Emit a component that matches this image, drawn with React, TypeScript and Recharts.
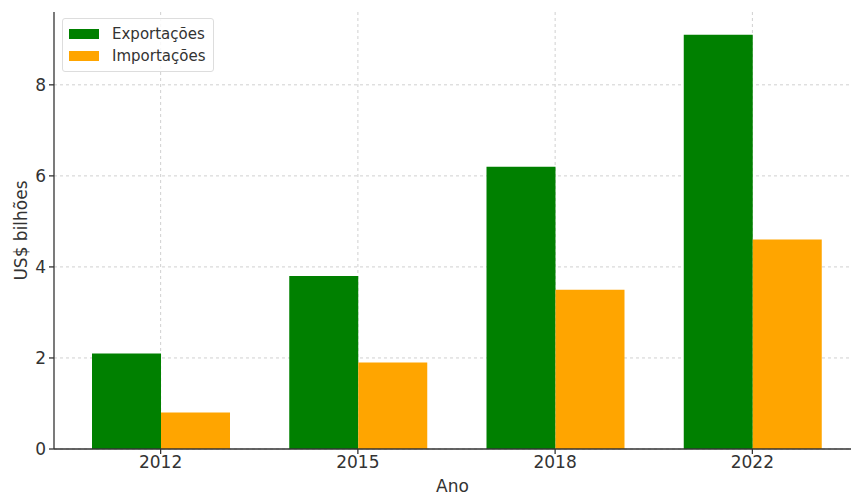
import * as React from "react";
import {
    Bar,
    BarChart,
    CartesianGrid,
    XAxis,
    YAxis,
} from "recharts";

const YEARS: string[] = ["2012", "2015", "2018", "2022"];
const EXPORTS: number[] = [2.1, 3.8, 6.2, 9.1];
const IMPORTS: number[] = [0.8, 1.9, 3.5, 4.6];
const Y_TICKS: number[] = [0, 2, 4, 6, 8];

const SERIES = [
    { key: "exportacoes", name: "Exportações", color: "#008000" },
    { key: "importacoes", name: "Importações", color: "#FFA500" },
];

const TEXT_COLOR = "#333";
const FONT = "'DejaVu Sans', sans-serif";

const data = YEARS.map((year, i) => ({
    ano: year,
    exportacoes: EXPORTS[i],
    importacoes: IMPORTS[i],
}));

// legend drawn as an overlay so it doesn't eat plot space
const LegendBox = (): JSX.Element => (
    <div style={{
        position: "absolute",
        left: 62,
        top: 18,
        border: "1px solid #ddd",
        borderRadius: 3,
        background: "rgba(255,255,255,0.85)",
        padding: "4px 8px 4px 6px",
        fontFamily: FONT,
        fontSize: 15,
        color: TEXT_COLOR,
    }}>
        {SERIES.map((s, i) => (
            <div key={`leg-${i}`} style={{ display: "flex", alignItems: "center", height: 22 }}>
                <span style={{ display: "inline-block", width: 30, height: 10, background: s.color, marginRight: 13 }} />
                <span>{s.name}</span>
            </div>
        ))}
    </div>
);

export default function App(): JSX.Element {
    return (
        <div style={{ position: "absolute", left: 0, top: 0, width: 851, height: 495, background: "#fff" }}>
            <BarChart
                width={851}
                height={495}
                data={data}
                margin={{ top: 12, right: 0, bottom: 0, left: 0 }}
                barCategoryGap={30}
                barGap={0}
            >
                <CartesianGrid strokeDasharray="3 3" stroke="#d0d0d0" horizontalValues={Y_TICKS} verticalValues={YEARS} />
                <XAxis
                    dataKey="ano"
                    height={46}
                    padding={{ left: 8, right: 0 }}
                    tickSize={5}
                    tickMargin={2}
                    stroke={TEXT_COLOR}
                    strokeWidth={1.3}
                    tick={{ fill: TEXT_COLOR, fontSize: 17, fontFamily: FONT }}
                    label={{ value: "Ano", position: "insideBottom", offset: 3, fill: TEXT_COLOR, fontSize: 17, fontFamily: FONT }}
                />
                <YAxis
                    width={54}
                    domain={[0, 9.6]}
                    ticks={Y_TICKS}
                    tickSize={5}
                    tickMargin={3}
                    stroke={TEXT_COLOR}
                    strokeWidth={1.3}
                    tick={{ fill: TEXT_COLOR, fontSize: 17, fontFamily: FONT }}
                    label={{ value: "US$ bilhões", angle: -90, position: "insideLeft", offset: 21, fill: TEXT_COLOR, fontSize: 17, fontFamily: FONT, style: { textAnchor: "middle" } }}
                />
                {SERIES.map((s) => (
                    <Bar key={s.key} dataKey={s.key} name={s.name} fill={s.color} isAnimationActive={false} />
                ))}
            </BarChart>
            <LegendBox />
        </div>
    );
}
